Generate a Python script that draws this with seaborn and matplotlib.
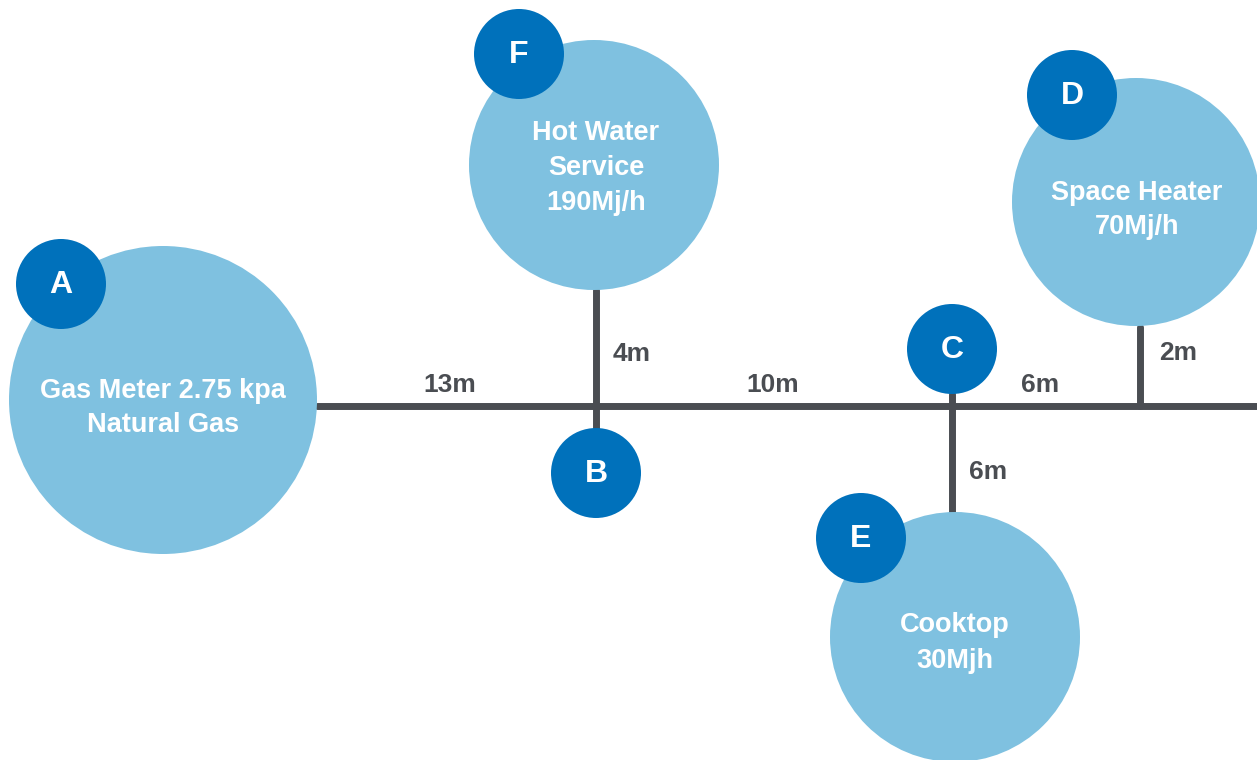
import numpy as np
import pandas as pd
import seaborn as sns
import matplotlib.pyplot as plt
from matplotlib.patches import Circle

sns.set_theme(style="white")
plt.rcParams['font.family'] = ['Liberation Sans', 'DejaVu Sans']

# appliances (big circles)
appliances = ["Gas Meter 2.75 kpa\nNatural Gas", "Hot Water\nService\n190Mj/h",
              "Space Heater\n70Mj/h", "Cooktop\n30Mjh"]
app_letters = ["A", "F", "D", "E"]
# junction badges without an appliance
junctions = ["B", "C"]
# pipe run lengths
seg_labels = ["13m", "4m", "10m", "6m", "2m", "6m"]

# layout in pixel space
app_xy = [(163, 400), (594, 165), (1136, 202), (955, 637)]
app_r = [154, 125, 124, 125]
app_text_xy = [(163, 408), (596, 168), (1137, 210), (955, 643)]
app_badge_xy = [(61, 284), (519, 54), (1072, 95), (861, 538)]
junc_xy = [(596, 473), (952, 349)]
badge_r = 45
seg_xy = [(450, 385), (632, 354), (773, 385), (1040, 385), (1178, 353), (988, 472)]
pipes = pd.DataFrame({
    "seg": [0, 0, 1, 1, 2, 2, 3, 3],
    "x": [317, 1257, 596, 596, 952, 952, 1140, 1140],
    "y": [406, 406, 290, 440, 394, 520, 327, 406],
})

light = "#7fc1e0"
dark = "#0071bb"
grey = "#4a4d52"

fig = plt.figure(figsize=(12.57, 7.6), dpi=100)
ax = fig.add_axes([0, 0, 1, 1])

sns.lineplot(data=pipes, x="x", y="y", units="seg", estimator=None,
             color=grey, lw=5, sort=False, ax=ax, zorder=1)
ax.set_xlim(0, 1257)
ax.set_ylim(760, 0)
ax.set_aspect("equal")
ax.axis("off")

for txt, (x, y), r, (tx, ty) in zip(appliances, app_xy, app_r, app_text_xy):
    ax.add_patch(Circle((x, y), r, color=light, zorder=2, lw=0))
    ax.text(tx, ty, txt, color="white", fontsize=19.5, fontweight="bold",
            ha="center", va="center", linespacing=1.45, zorder=4)

for letter, (x, y) in zip(app_letters + junctions, app_badge_xy + junc_xy):
    ax.add_patch(Circle((x, y), badge_r, color=dark, zorder=3, lw=0))
    ax.text(x, y + 1, letter, color="white", fontsize=23, fontweight="bold",
            ha="center", va="center", zorder=4)

for txt, (x, y) in zip(seg_labels, seg_xy):
    ax.text(x, y, txt, color=grey, fontsize=19, fontweight="bold",
            ha="center", va="center", zorder=4)

fig.savefig("out.png", dpi=100)
